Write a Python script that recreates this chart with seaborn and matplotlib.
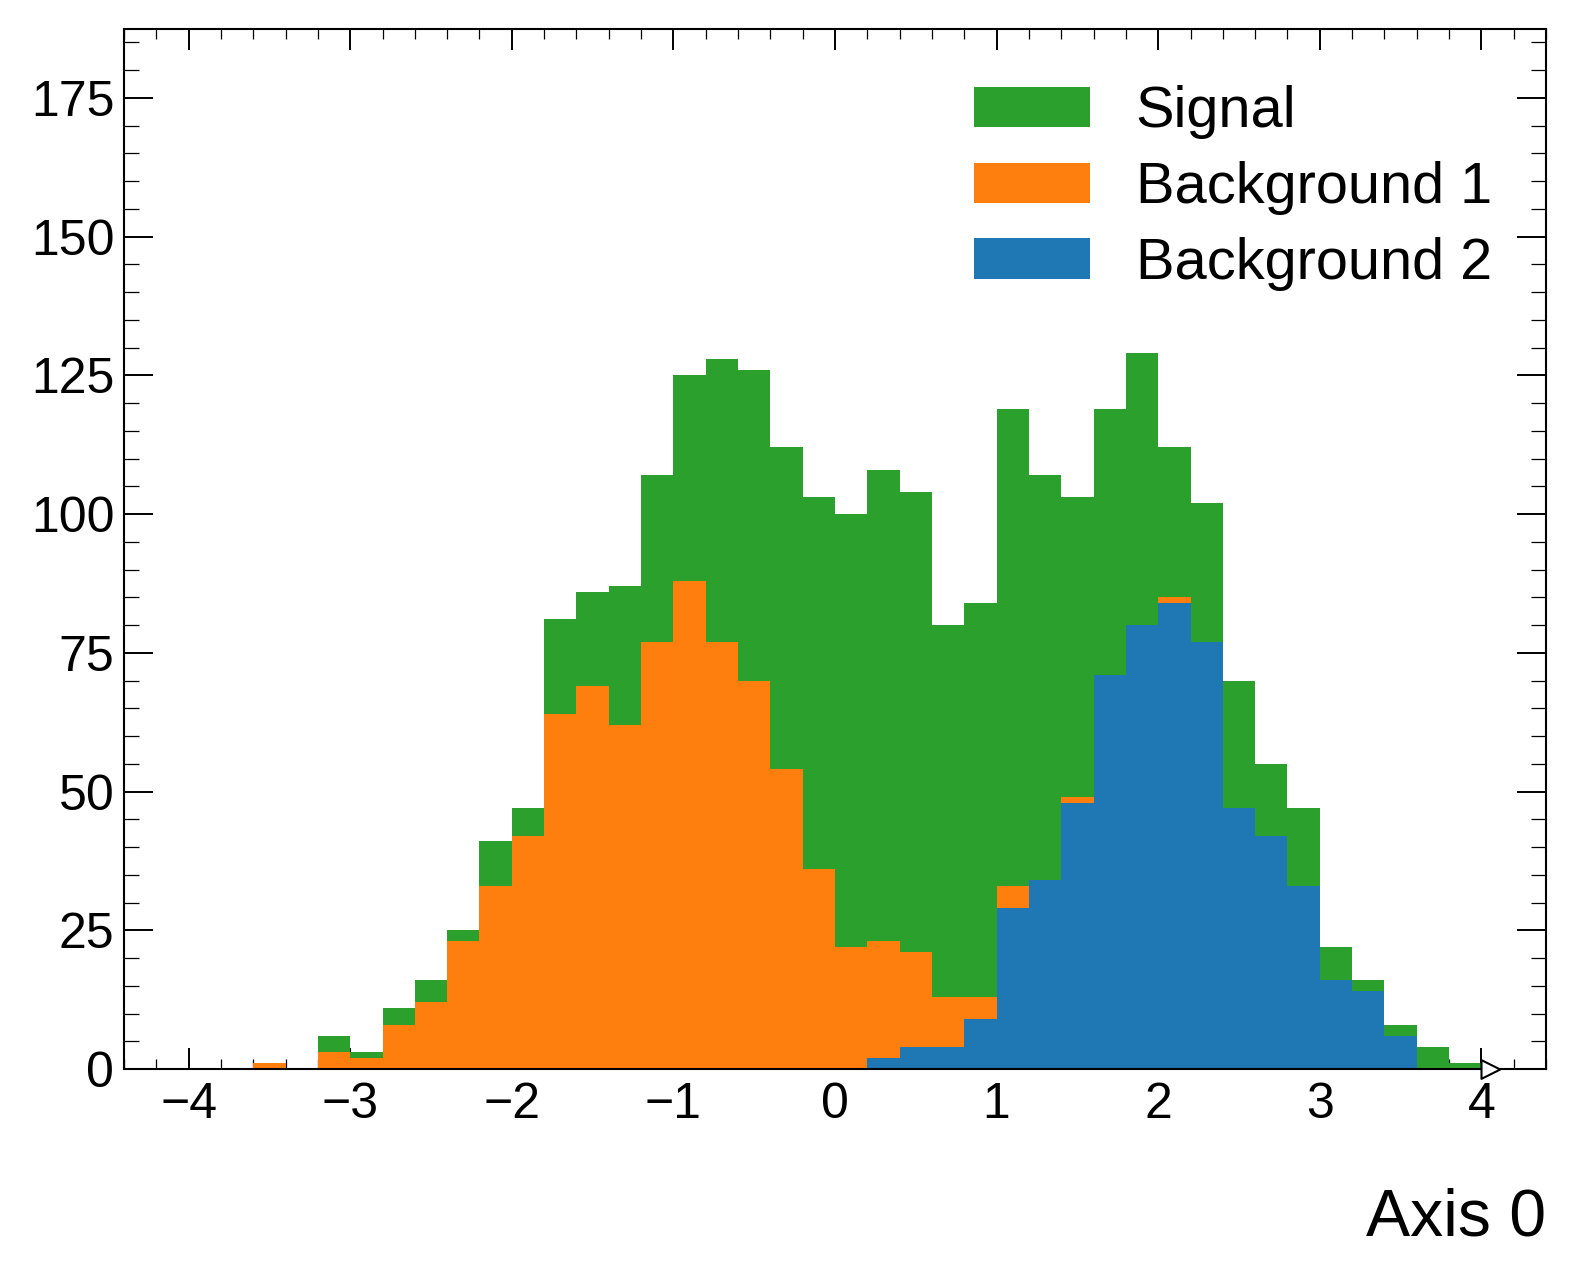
import numpy as np
import pandas as pd
import matplotlib
matplotlib.use("Agg")
import matplotlib.pyplot as plt
from matplotlib.patches import Patch
from matplotlib.path import Path
from matplotlib.ticker import MultipleLocator
import seaborn as sns

# 40 bins of width 0.2 from -4 to 4
bin_edges = [round(-4.0 + 0.2 * i, 2) for i in range(41)]

signal = [0, 0, 0, 0, 3, 1, 3, 4, 2, 8,
          5, 17, 17, 25, 30, 37, 51, 56, 58, 67,
          78, 85, 83, 67, 71, 86, 73, 54, 48, 49,
          27, 25, 23, 13, 14, 6, 2, 2, 4, 1]
background_1 = [0, 0, 1, 0, 3, 2, 8, 12, 23, 33,
                42, 64, 69, 62, 77, 88, 77, 70, 54, 36,
                22, 21, 17, 9, 4, 4, 0, 1, 0, 0,
                1, 0, 0, 0, 0, 0, 0, 0, 0, 0]
background_2 = [0, 0, 0, 0, 0, 0, 0, 0, 0, 0,
                0, 0, 0, 0, 0, 0, 0, 0, 0, 0,
                0, 2, 4, 4, 9, 29, 34, 48, 71, 80,
                84, 77, 47, 42, 33, 16, 14, 6, 0, 0]

labels = ["Signal", "Background 1", "Background 2"]
colors = {"Signal": "#2ca02c", "Background 1": "#ff7f0e", "Background 2": "#1f77b4"}

centers = [(a + b) / 2 for a, b in zip(bin_edges[:-1], bin_edges[1:])]
frames = []
for name, counts in zip(labels, [signal, background_1, background_2]):
    frames.append(pd.DataFrame({"x": centers, "w": counts, "sample": name}))
df = pd.concat(frames, ignore_index=True)

sns.set_style("ticks")
plt.rcParams["font.family"] = ["Liberation Sans", "DejaVu Sans"]
plt.rcParams["text.color"] = "black"
plt.rcParams["axes.labelcolor"] = "black"
plt.rcParams["xtick.color"] = "black"
plt.rcParams["ytick.color"] = "black"
plt.rcParams["axes.edgecolor"] = "black"

fig = plt.figure(figsize=(15.76, 12.75), dpi=100)
ax = fig.add_axes([124 / 1576, 1 - 1069 / 1275, (1546 - 124) / 1576, (1069 - 29) / 1275])

# seaborn stacks the last hue level at the bottom
sns.histplot(data=df, x="x", weights="w", hue="sample", hue_order=labels,
             bins=bin_edges, multiple="stack", element="step", fill=True,
             palette=colors, alpha=1, linewidth=0, legend=False, ax=ax)

# overflow hint marker at the last edge
tri = Path([(0, -0.5), (1, 0), (0, 0.5), (0, -0.5)],
           [Path.MOVETO, Path.LINETO, Path.LINETO, Path.CLOSEPOLY])
ax.plot([bin_edges[-1]], [0], marker=tri, markersize=27, markerfacecolor="white",
        markeredgecolor="black", markeredgewidth=1.5, clip_on=False, zorder=5)

ax.set_xlim(-4.4, 4.4)
ax.set_ylim(0, 187.4)
ax.xaxis.set_major_locator(MultipleLocator(1))
ax.xaxis.set_minor_locator(MultipleLocator(0.2))
ax.yaxis.set_major_locator(MultipleLocator(25))
ax.yaxis.set_minor_locator(MultipleLocator(5))

ax.tick_params(which="both", direction="in", top=True, right=True, labelsize=36)
ax.tick_params(axis="x", which="major", length=15, width=1.4, pad=9)
ax.tick_params(axis="x", which="minor", length=7.2, width=0.9)
ax.tick_params(axis="y", which="major", length=21, width=1.4, pad=7)
ax.tick_params(axis="y", which="minor", length=10.8, width=0.9)
for sp in ax.spines.values():
    sp.set_linewidth(1.5)

ax.set_xlabel("Axis 0", loc="right", fontsize=47.6, labelpad=43.5)
ax.set_ylabel("")

handles = [Patch(facecolor=colors[n], edgecolor="none", label=n) for n in labels]
ax.legend(handles=handles, loc="upper left", bbox_to_anchor=(974 / 1576, 1 - 85 / 1275),
          bbox_transform=fig.transFigure, frameon=False, fontsize=41.6,
          handlelength=2.0, handleheight=0.7, handletextpad=0.8,
          labelspacing=0.38, borderpad=0, borderaxespad=0)

fig.savefig("out.png", dpi=100)
